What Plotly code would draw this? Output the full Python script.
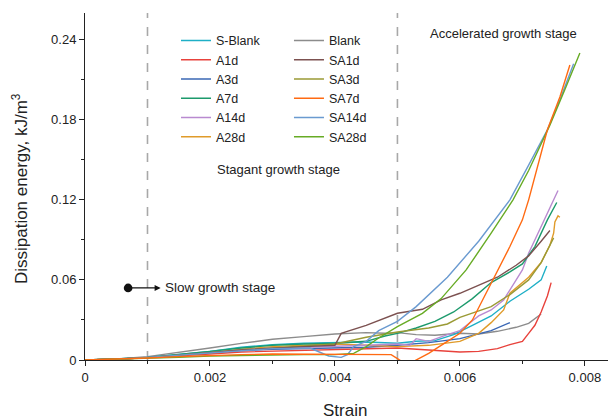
import plotly.graph_objects as go

# ---------------- data ----------------
sblank_x = [0, 0.0005, 0.001, 0.0015, 0.002, 0.0025, 0.003, 0.0035, 0.004, 0.0045, 0.005, 0.0053, 0.0056, 0.0059, 0.0062, 0.0065, 0.0068, 0.0071, 0.0073, 0.00739]
sblank_y = [0, 0.0007, 0.002, 0.004, 0.0065, 0.0095, 0.0115, 0.0125, 0.013, 0.0135, 0.0125, 0.014, 0.0145, 0.019, 0.026, 0.033, 0.044, 0.053, 0.060, 0.0705]

a1d_x = [0, 0.0005, 0.001, 0.0015, 0.002, 0.0025, 0.003, 0.0035, 0.004, 0.0045, 0.005, 0.0055, 0.006, 0.0063, 0.0066, 0.0068, 0.007, 0.0071, 0.0072, 0.0073, 0.0074, 0.00746]
a1d_y = [0, 0.0006, 0.0018, 0.003, 0.0045, 0.006, 0.0065, 0.0075, 0.008, 0.0085, 0.009, 0.0075, 0.006, 0.0065, 0.0085, 0.0115, 0.014, 0.020, 0.026, 0.036, 0.048, 0.058]

a3d_x = [0, 0.0005, 0.001, 0.0015, 0.002, 0.0025, 0.003, 0.0035, 0.004, 0.0045, 0.005, 0.0055, 0.006, 0.0065, 0.0068]
a3d_y = [0, 0.0006, 0.0018, 0.0035, 0.0055, 0.007, 0.008, 0.0085, 0.009, 0.0095, 0.011, 0.013, 0.016, 0.022, 0.028]

a7d_x = [0, 0.0005, 0.001, 0.0015, 0.002, 0.0025, 0.003, 0.0035, 0.004, 0.0045, 0.0048, 0.005, 0.0053, 0.0056, 0.0059, 0.0062, 0.0065, 0.0068, 0.007, 0.0072, 0.0073, 0.0074, 0.00755]
a7d_y = [0, 0.0007, 0.002, 0.004, 0.0065, 0.009, 0.011, 0.012, 0.0125, 0.014, 0.018, 0.020, 0.024, 0.029, 0.036, 0.046, 0.058, 0.066, 0.072, 0.085, 0.095, 0.105, 0.118]

a14d_x = [0, 0.0005, 0.001, 0.0015, 0.002, 0.0025, 0.003, 0.0035, 0.004, 0.0045, 0.005, 0.0052, 0.0053, 0.0055, 0.0058, 0.006, 0.0063, 0.0065, 0.0067, 0.0068, 0.007, 0.0071, 0.0073, 0.0075, 0.00757]
a14d_y = [0, 0.0006, 0.0018, 0.0035, 0.0055, 0.0075, 0.009, 0.0095, 0.010, 0.011, 0.012, 0.011, 0.016, 0.014, 0.019, 0.022, 0.033, 0.0375, 0.045, 0.0525, 0.0675, 0.080, 0.100, 0.120, 0.127]

a28d_x = [0, 0.0005, 0.001, 0.0015, 0.002, 0.0025, 0.003, 0.0035, 0.004, 0.0045, 0.005, 0.0055, 0.006, 0.0063, 0.0065, 0.0067, 0.0068, 0.0071, 0.0073, 0.00744, 0.0075, 0.00752, 0.00757, 0.0076]
a28d_y = [0, 0.0006, 0.0018, 0.0035, 0.0055, 0.008, 0.010, 0.011, 0.012, 0.011, 0.010, 0.011, 0.014, 0.020, 0.028, 0.0375, 0.050, 0.062, 0.073, 0.086, 0.095, 0.1035, 0.108, 0.107]

blank_x = [0, 0.0005, 0.001, 0.0015, 0.002, 0.0025, 0.003, 0.0035, 0.004, 0.0045, 0.0048, 0.005, 0.0053, 0.0056, 0.006, 0.0063, 0.0066, 0.0069, 0.0071, 0.0073]
blank_y = [0, 0.0008, 0.0025, 0.0055, 0.009, 0.0125, 0.0155, 0.0175, 0.0195, 0.0205, 0.0200, 0.0205, 0.0190, 0.0185, 0.0200, 0.0195, 0.0215, 0.0245, 0.0275, 0.0345]

sa1d_x = [0, 0.0005, 0.001, 0.0015, 0.002, 0.0025, 0.003, 0.0035, 0.004, 0.0041, 0.0045, 0.005, 0.0054, 0.0057, 0.006, 0.0063, 0.0066, 0.0069, 0.0071, 0.0073, 0.00744]
sa1d_y = [0, 0.0006, 0.0018, 0.0035, 0.0055, 0.0075, 0.009, 0.010, 0.011, 0.020, 0.026, 0.035, 0.038, 0.045, 0.050, 0.056, 0.062, 0.071, 0.078, 0.089, 0.097]

sa3d_x = [0, 0.0005, 0.001, 0.0015, 0.002, 0.0025, 0.003, 0.0035, 0.004, 0.0045, 0.005, 0.0055, 0.0058, 0.006, 0.0065, 0.0068, 0.0071, 0.0073, 0.0074, 0.0075]
sa3d_y = [0, 0.0006, 0.0018, 0.0035, 0.0055, 0.0075, 0.009, 0.0105, 0.012, 0.017, 0.021, 0.024, 0.027, 0.032, 0.040, 0.049, 0.060, 0.073, 0.0825, 0.0915]

sa7d_x = [0, 0.0005, 0.001, 0.0015, 0.002, 0.0025, 0.003, 0.0035, 0.004, 0.0045, 0.0049, 0.005, 0.0051, 0.0052, 0.0053, 0.0055, 0.0058, 0.006, 0.0062, 0.0065, 0.0068, 0.007, 0.0071, 0.0074, 0.0076, 0.00776]
sa7d_y = [0, 0.0005, 0.0015, 0.0025, 0.0035, 0.004, 0.0045, 0.0045, 0.0045, 0.004, 0.004, 0.001, -0.002, -0.0025, 0.0, 0.005, 0.014, 0.020, 0.030, 0.058, 0.085, 0.105, 0.120, 0.1725, 0.197, 0.221]

sa14d_x = [0, 0.0005, 0.001, 0.0015, 0.002, 0.0025, 0.003, 0.0036, 0.0039, 0.0041, 0.0042, 0.0043, 0.0045, 0.0047, 0.005, 0.0053, 0.0056, 0.0058, 0.0063, 0.0068, 0.0071, 0.0074, 0.0076, 0.00782]
sa14d_y = [0, 0.0006, 0.002, 0.0035, 0.0055, 0.007, 0.0085, 0.009, 0.003, 0.002, 0.004, 0.010, 0.014, 0.022, 0.029, 0.040, 0.053, 0.062, 0.089, 0.120, 0.146, 0.1725, 0.195, 0.222]

sa28d_x = [0, 0.0005, 0.001, 0.0015, 0.002, 0.0025, 0.003, 0.0035, 0.004, 0.0043, 0.0045, 0.0047, 0.005, 0.0054, 0.0057, 0.0061, 0.0065, 0.00685, 0.0071, 0.00744, 0.0077, 0.00792]
sa28d_y = [0, 0.0005, 0.0015, 0.002, 0.003, 0.0035, 0.004, 0.004, 0.004, 0.005, 0.010, 0.0165, 0.025, 0.035, 0.046, 0.0675, 0.095, 0.120, 0.142, 0.176, 0.205, 0.230]

series_names = ["S-Blank", "A1d", "A3d", "A7d", "A14d", "A28d",
                "Blank", "SA1d", "SA3d", "SA7d", "SA14d", "SA28d"]
series_x = [sblank_x, a1d_x, a3d_x, a7d_x, a14d_x, a28d_x,
            blank_x, sa1d_x, sa3d_x, sa7d_x, sa14d_x, sa28d_x]
series_y = [sblank_y, a1d_y, a3d_y, a7d_y, a14d_y, a28d_y,
            blank_y, sa1d_y, sa3d_y, sa7d_y, sa14d_y, sa28d_y]
series_colors = ["#1EAFC6", "#E8423C", "#3A67B5", "#1C9A6C", "#B98AD0", "#E09B2A",
                 "#8C8C8C", "#7C5150", "#9A9A35", "#FF6A12", "#6A9AD0", "#67AB25"]

stage_bounds = [0.001, 0.005]
x_ticks = [0, 0.002, 0.004, 0.006, 0.008]
x_ticklabels = ["0", "0.002", "0.004", "0.006", "0.008"]
y_ticks = [0, 0.06, 0.12, 0.18, 0.24]
y_ticklabels = ["0", "0.06", "0.12", "0.18", "0.24"]

FONT = "Liberation Sans, Arial, sans-serif"

fig = go.Figure()
draw_order = [6, 0, 2, 1, 5, 4, 3, 8, 7, 10, 11, 9]
for i in draw_order:
    fig.add_trace(go.Scatter(
        x=series_x[i], y=series_y[i], mode="lines", name=series_names[i],
        line=dict(color=series_colors[i], width=1.4),
        legend="legend" if i < 6 else "legend2",
        legendrank=i,
    ))

for b in stage_bounds:
    fig.add_shape(type="line", xref="x", yref="paper", x0=b, x1=b, y0=0, y1=1,
                  line=dict(color="#A8A8A8", width=1.6, dash="dash"), layer="below")

legend_common = dict(font=dict(family=FONT, size=12.5, color="#222"),
                     bgcolor="rgba(0,0,0,0)", tracegroupgap=0,
                     xanchor="left", yanchor="top", itemwidth=30)

fig.update_layout(
    width=610, height=419,
    margin=dict(l=85, r=2, t=13, b=59),
    plot_bgcolor="white", paper_bgcolor="white",
    font=dict(family=FONT, size=13, color="#222"),
    showlegend=True,
    legend=dict(x=0.174, y=0.963, **legend_common),
    legend2=dict(x=0.39, y=0.963, **legend_common),
    xaxis=dict(range=[0, 0.00837], showgrid=False, zeroline=False,
               showline=True, linecolor="#222", linewidth=1,
               tickvals=x_ticks, ticktext=x_ticklabels,
               ticks="outside", ticklen=5, tickcolor="#222",
               minor=dict(ticks="outside", ticklen=3, dtick=0.001, tick0=0, tickcolor="#222"),
               tickfont=dict(size=13)),
    yaxis=dict(range=[0, 0.26], showgrid=False, zeroline=False,
               showline=True, linecolor="#222", linewidth=1,
               tickvals=y_ticks, ticktext=y_ticklabels,
               ticks="outside", ticklen=5, tickcolor="#222",
               minor=dict(ticks="outside", ticklen=3, dtick=0.03, tick0=0, tickcolor="#222"),
               tickfont=dict(size=13)),
)

annotations = [
    dict(text="Dissipation energy, kJ/m<sup>3</sup>", xref="paper", yref="paper",
         x=-0.124, y=0.493, textangle=-90, showarrow=False,
         font=dict(size=17), xanchor="center", yanchor="middle"),
    dict(text="Strain", xref="paper", yref="paper", x=0.497, y=-0.145,
         showarrow=False, font=dict(size=17), xanchor="center", yanchor="middle"),
    dict(text="Accelerated growth stage", xref="x", yref="y", x=0.00669, y=0.2445,
         showarrow=False, font=dict(size=13), xanchor="center", yanchor="middle"),
    dict(text="Stagant growth stage", xref="x", yref="y", x=0.00309, y=0.1425,
         showarrow=False, font=dict(size=13), xanchor="center", yanchor="middle"),
    dict(text="Slow growth stage", xref="x", yref="y", x=0.00125, y=0.054,
         showarrow=False, font=dict(size=13.5), xanchor="left", yanchor="middle"),
    dict(text="", xref="x", yref="y", x=0.00121, y=0.054, ax=-34, ay=0,
         showarrow=True, arrowhead=2, arrowsize=1, arrowwidth=1.2, arrowcolor="#111",
         arrowside="end+start", startarrowhead=6, startarrowsize=1.8),
]
fig.update_layout(annotations=annotations)

fig.write_html("out.html")
